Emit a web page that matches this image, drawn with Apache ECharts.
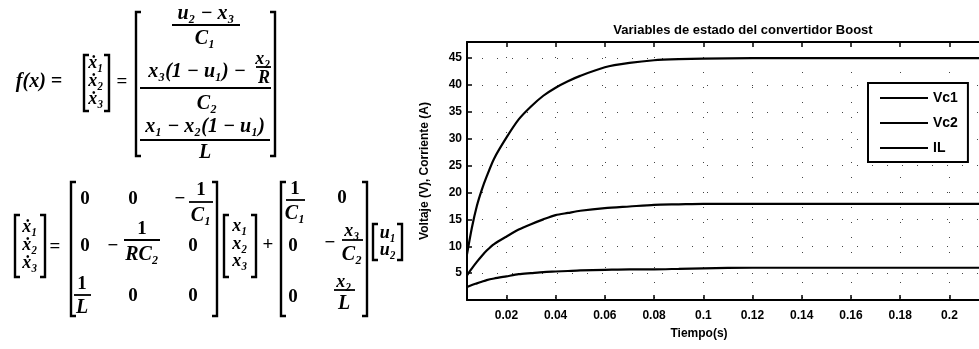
<!DOCTYPE html>
<html>
<head>
<meta charset="utf-8">
<script src="https://cdn.jsdelivr.net/npm/echarts@6/dist/echarts.min.js"></script>
<style>
  html, body { margin: 0; padding: 0; background: #fff; }
  #main { width: 979px; height: 349px; }
</style>
</head>
<body>
<div id="main"></div>
<script>
// time (s) and the three state variables
var tiempo = [0.004, 0.006, 0.008, 0.010, 0.012, 0.015, 0.020, 0.025, 0.030, 0.035, 0.040, 0.045,
              0.050, 0.060, 0.070, 0.080, 0.090, 0.100, 0.120, 0.140, 0.160, 0.180, 0.200, 0.212];
var vc1 = [8.5, 13.5, 17.5, 20.5, 23.0, 26.3, 30.2, 33.6, 36.0, 38.0, 39.5, 40.7,
           41.7, 43.3, 44.1, 44.6, 44.8, 44.9, 45.0, 45.0, 45.0, 45.0, 45.0, 45.0];
var vc2 = [4.6, 5.9, 7.1, 8.2, 9.2, 10.4, 11.8, 13.1, 14.1, 15.0, 15.8, 16.2,
           16.6, 17.1, 17.4, 17.7, 17.8, 17.9, 17.9, 17.9, 17.9, 17.9, 17.9, 17.9];
var il = [2.4, 2.8, 3.1, 3.4, 3.7, 4.0, 4.4, 4.8, 5.0, 5.2, 5.3, 5.4,
          5.5, 5.6, 5.7, 5.7, 5.8, 5.9, 6.0, 6.0, 6.0, 6.0, 6.0, 6.0];
var seriesNames = ['Vc1', 'Vc2', 'IL'];
var xTicks = [0.02, 0.04, 0.06, 0.08, 0.1, 0.12, 0.14, 0.16, 0.18, 0.2];

function pairs(ys) {
    var out = [];
    for (var i = 0; i < tiempo.length; i++) out.push([tiempo[i], ys[i]]);
    return out;
}

// --- equation drawing helpers (graphic elements) ---
var EQF = 'italic bold 20px "Liberation Serif"';
var VECF = 'italic bold 18px "Liberation Serif"';
var NUMF = 'bold 19px "Liberation Serif"';
function T(x, y, s, font) {
    return { type: 'text', x: x, y: y, style: { text: s, font: font || EQF, fill: '#000', align: 'center', verticalAlign: 'middle' } };
}
function N(x, y, s) { return T(x, y, s, NUMF); }
function V(x, y, s) { return T(x, y, s, VECF); }
function L(x1, x2, y) {
    return { type: 'line', shape: { x1: x1, y1: y, x2: x2, y2: y }, style: { stroke: '#000', lineWidth: 1.8 } };
}
function B(x, y1, y2, dir) {
    return { type: 'polyline', shape: { points: [[x + dir * 5, y1], [x, y1], [x, y2], [x + dir * 5, y2]] },
             style: { stroke: '#000', lineWidth: 2.4, fill: null } };
}

var eq = [
    // f(x) = [x1' x2' x3'] = [...]
    T(39, 82, 'f(x) ='),
    B(84, 55, 111, 1), B(109, 55, 111, -1),
    V(96, 63, 'ẋ₁'), V(96, 81, 'ẋ₂'), V(96, 99, 'ẋ₃'),
    N(122, 82, '='),
    B(136, 12, 156, 1), B(275, 12, 156, -1),
    T(206, 14, 'u₂ − x₃'), L(172, 240, 25), T(205, 39, 'C₁'),
    T(197, 72, 'x₃(1 − u₁) −'), V(263, 59, 'x₂'), L(256, 271, 67), V(264, 78, 'R'),
    L(140, 271, 88), T(207, 104, 'C₂'),
    T(205, 127, 'x₁ − x₂(1 − u₁)'), L(140, 270, 140), T(205, 153, 'L'),

    // state equation
    B(15, 215, 277, 1), B(45, 215, 277, -1),
    V(30, 227, 'ẋ₁'), V(30, 245, 'ẋ₂'), V(30, 263, 'ẋ₃'),
    N(55, 247, '='),
    B(71, 182, 316, 1), B(217, 182, 316, -1),
    N(85, 199, '0'), N(133, 199, '0'), N(180, 199, '−'), N(201, 190, '1'), L(189, 213, 202), T(201, 216, 'C₁'),
    N(85, 246, '0'), N(113, 246, '−'), N(142, 229, '1'), L(124, 160, 240), T(142, 255, 'RC₂'), N(193, 246, '0'),
    N(82, 284, '1'), L(74, 91, 295), T(82, 308, 'L'), N(133, 296, '0'), N(193, 296, '0'),
    B(224, 215, 277, 1), B(256, 215, 277, -1),
    V(240, 226, 'x₁'), V(240, 244, 'x₂'), V(240, 261, 'x₃'),
    N(268, 245, '+'),
    B(281, 182, 316, 1), B(367, 182, 316, -1),
    N(295, 189, '1'), L(286, 305, 200), T(295, 214, 'C₁'), N(342, 198, '0'),
    N(293, 246, '0'), N(330, 243, '−'), V(352, 231, 'x₃'), L(342, 363, 240), T(352, 255, 'C₂'),
    N(293, 297, '0'), V(344, 282, 'x₂'), L(334, 355, 290), T(344, 304, 'L'),
    B(373, 224, 260, 1), B(402, 224, 260, -1),
    V(388, 233, 'u₁'), V(388, 250, 'u₂')
];

var chart = echarts.init(document.getElementById('main'));
var lbl = { color: '#000', fontFamily: 'Liberation Sans', fontWeight: 'bold', fontSize: 12 };

var option = {
    animation: false,
    backgroundColor: '#fff',
    title: {
        text: 'Variables de estado del convertidor Boost',
        left: 738, top: 19, textAlign: 'center',
        textStyle: { color: '#000', fontFamily: 'Liberation Sans', fontWeight: 'bold', fontSize: 13 }
    },
    legend: {
        data: seriesNames,
        orient: 'vertical',
        left: 868, top: 83,
        padding: [8, 10, 7, 12],
        icon: 'path://M0,0H48V2.2H0Z',
        itemWidth: 48, itemHeight: 14, itemGap: 11,
        itemStyle: { color: '#000' },
        borderColor: '#000', borderWidth: 2,
        backgroundColor: '#fff',
        textStyle: { color: '#000', fontFamily: 'Liberation Sans', fontWeight: 'bold', fontSize: 14 }
    },
    grid: { left: 467, top: 42, right: -10, bottom: 49 },
    xAxis: [{
        type: 'value', min: 0.004, max: 0.212,
        name: 'Tiempo(s)', nameLocation: 'middle', nameGap: 28,
        nameTextStyle: { color: '#000', fontFamily: 'Liberation Sans', fontWeight: 'bold', fontSize: 12, padding: [0, 48, 0, 0] },
        axisLine: { lineStyle: { color: '#000', width: 2 } },
        axisTick: { inside: true, length: 5, customValues: xTicks, lineStyle: { color: '#000', width: 1.5 } },
        axisLabel: Object.assign({ margin: 10, customValues: xTicks, formatter: function (v) { return String(+v.toFixed(2)); } }, lbl),
        splitLine: { show: true, lineStyle: { color: '#444', width: 1, type: [1, 14] } }
    }, {
        type: 'value', position: 'top', min: 0.004, max: 0.212,
        axisLine: { show: true, lineStyle: { color: '#000', width: 2 } },
        axisTick: { show: true, inside: true, length: 5, customValues: xTicks, lineStyle: { color: '#000', width: 1.5 } },
        axisLabel: { show: false },
        splitLine: { show: false }
    }],
    yAxis: {
        type: 'value', min: 0, max: 48, interval: 5,
        name: 'Voltaje (V), Corriente (A)', nameLocation: 'middle', nameGap: 36,
        nameTextStyle: { color: '#000', fontFamily: 'Liberation Sans', fontWeight: 'bold', fontSize: 12 },
        axisLine: { show: true, lineStyle: { color: '#000', width: 2 } },
        axisTick: { show: true, inside: true, length: 5, lineStyle: { color: '#000', width: 1.5 } },
        axisLabel: Object.assign({ margin: 5, showMinLabel: false, showMaxLabel: false }, lbl),
        splitLine: { show: true, lineStyle: { color: '#444', width: 1, type: [1, 14] } }
    },
    series: [
        { name: seriesNames[0], type: 'line', data: pairs(vc1) },
        { name: seriesNames[1], type: 'line', data: pairs(vc2) },
        { name: seriesNames[2], type: 'line', data: pairs(il) }
    ].map(function (s) {
        s.symbol = 'none';
        s.smooth = 0.25;
        s.lineStyle = { color: '#000', width: 2.2 };
        s.itemStyle = { color: '#000' };
        return s;
    }),
    graphic: eq
};

chart.setOption(option);
</script>
</body>
</html>
